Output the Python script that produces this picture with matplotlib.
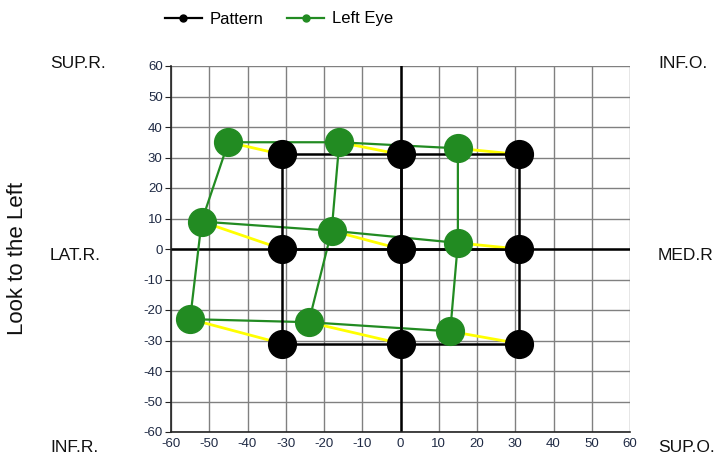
import matplotlib
matplotlib.use("Agg")
import matplotlib.pyplot as plt
from matplotlib.lines import Line2D

plt.rcParams['font.family'] = ['Liberation Sans', 'DejaVu Sans']
plt.rcParams['axes.unicode_minus'] = False

# 3x3 grid, row-major (top row first, left to right)
pattern_x = [-31, 0, 31, -31, 0, 31, -31, 0, 31]
pattern_y = [31, 31, 31, 0, 0, 0, -31, -31, -31]
eye_x = [-45, -16, 15, -52, -18, 15, -55, -24, 13]
eye_y = [35, 35, 33, 9, 6, 2, -23, -24, -27]
ticks = list(range(-60, 61, 10))

fig = plt.figure(figsize=(7.19, 4.57), dpi=100)
ax = fig.add_axes([171/719, 1-432/457, (630-171)/719, (432-66)/457])
ax.set_xlim(-60, 60)
ax.set_ylim(-60, 60)
ax.set_xticks(ticks)
ax.set_yticks(ticks)
ax.grid(True, color='#808080', linewidth=1.0, zorder=0)
ax.set_axisbelow(True)
for s in ['top', 'right']:
    ax.spines[s].set_visible(False)
for s in ['left', 'bottom']:
    ax.spines[s].set_color('#222222')
    ax.spines[s].set_linewidth(1.2)
ax.axhline(0, color='black', linewidth=1.8, zorder=1)
ax.axvline(0, color='black', linewidth=1.8, zorder=1)
ax.tick_params(axis='x', length=0, labelsize=9.5, labelcolor='#1f2a44', pad=4)
ax.tick_params(axis='y', length=4, labelsize=9.5, labelcolor='#1f2a44', color='#222222', pad=2)

def grid_lines(xs, ys, color, lw, z):
    for r in range(3):
        ax.plot(xs[3*r:3*r+3], ys[3*r:3*r+3], color=color, lw=lw, zorder=z)
    for c in range(3):
        ax.plot(xs[c::3], ys[c::3], color=color, lw=lw, zorder=z)

# yellow connectors
for px, py, ex, ey in zip(pattern_x, pattern_y, eye_x, eye_y):
    ax.plot([px, ex], [py, ey], color='#ffff00', lw=2.0, zorder=2, solid_capstyle='butt')

grid_lines(eye_x, eye_y, '#228B22', 1.6, 3)
grid_lines(pattern_x, pattern_y, 'black', 1.8, 4)
ax.plot(pattern_x, pattern_y, 'o', color='black', ms=20, zorder=5, linestyle='none')
ax.plot(eye_x, eye_y, 'o', color='#228B22', ms=20, zorder=6, linestyle='none')

handles = [Line2D([], [], color='black', marker='o', ms=5, lw=1.6),
           Line2D([], [], color='#228B22', marker='o', ms=5, lw=1.6)]
fig.legend(handles, ['Pattern', 'Left Eye'], loc='center left',
           bbox_to_anchor=(150/719, 1-19/457), ncol=2, frameon=False,
           fontsize=12, handlelength=2.2, columnspacing=1.4, handletextpad=0.5)

lab = dict(fontsize=12.5, color='#111111', va='center')
fig.text(50/719, 1-63/457, 'SUP.R.', ha='left', **lab)
fig.text(658/719, 1-63/457, 'INF.O.', ha='left', **lab)
fig.text(50/719, 1-256/457, 'LAT.R.', ha='left', **lab)
fig.text(658/719, 1-256/457, 'MED.R', ha='left', **lab)
fig.text(50/719, 1-447/457, 'INF.R.', ha='left', **lab)
fig.text(658/719, 1-447/457, 'SUP.O.', ha='left', **lab)
fig.text(18/719, 1-258/457, 'Look to the Left', rotation=90, ha='center', va='center',
         fontsize=16, color='#111111')

fig.savefig('out.png', dpi=100)
